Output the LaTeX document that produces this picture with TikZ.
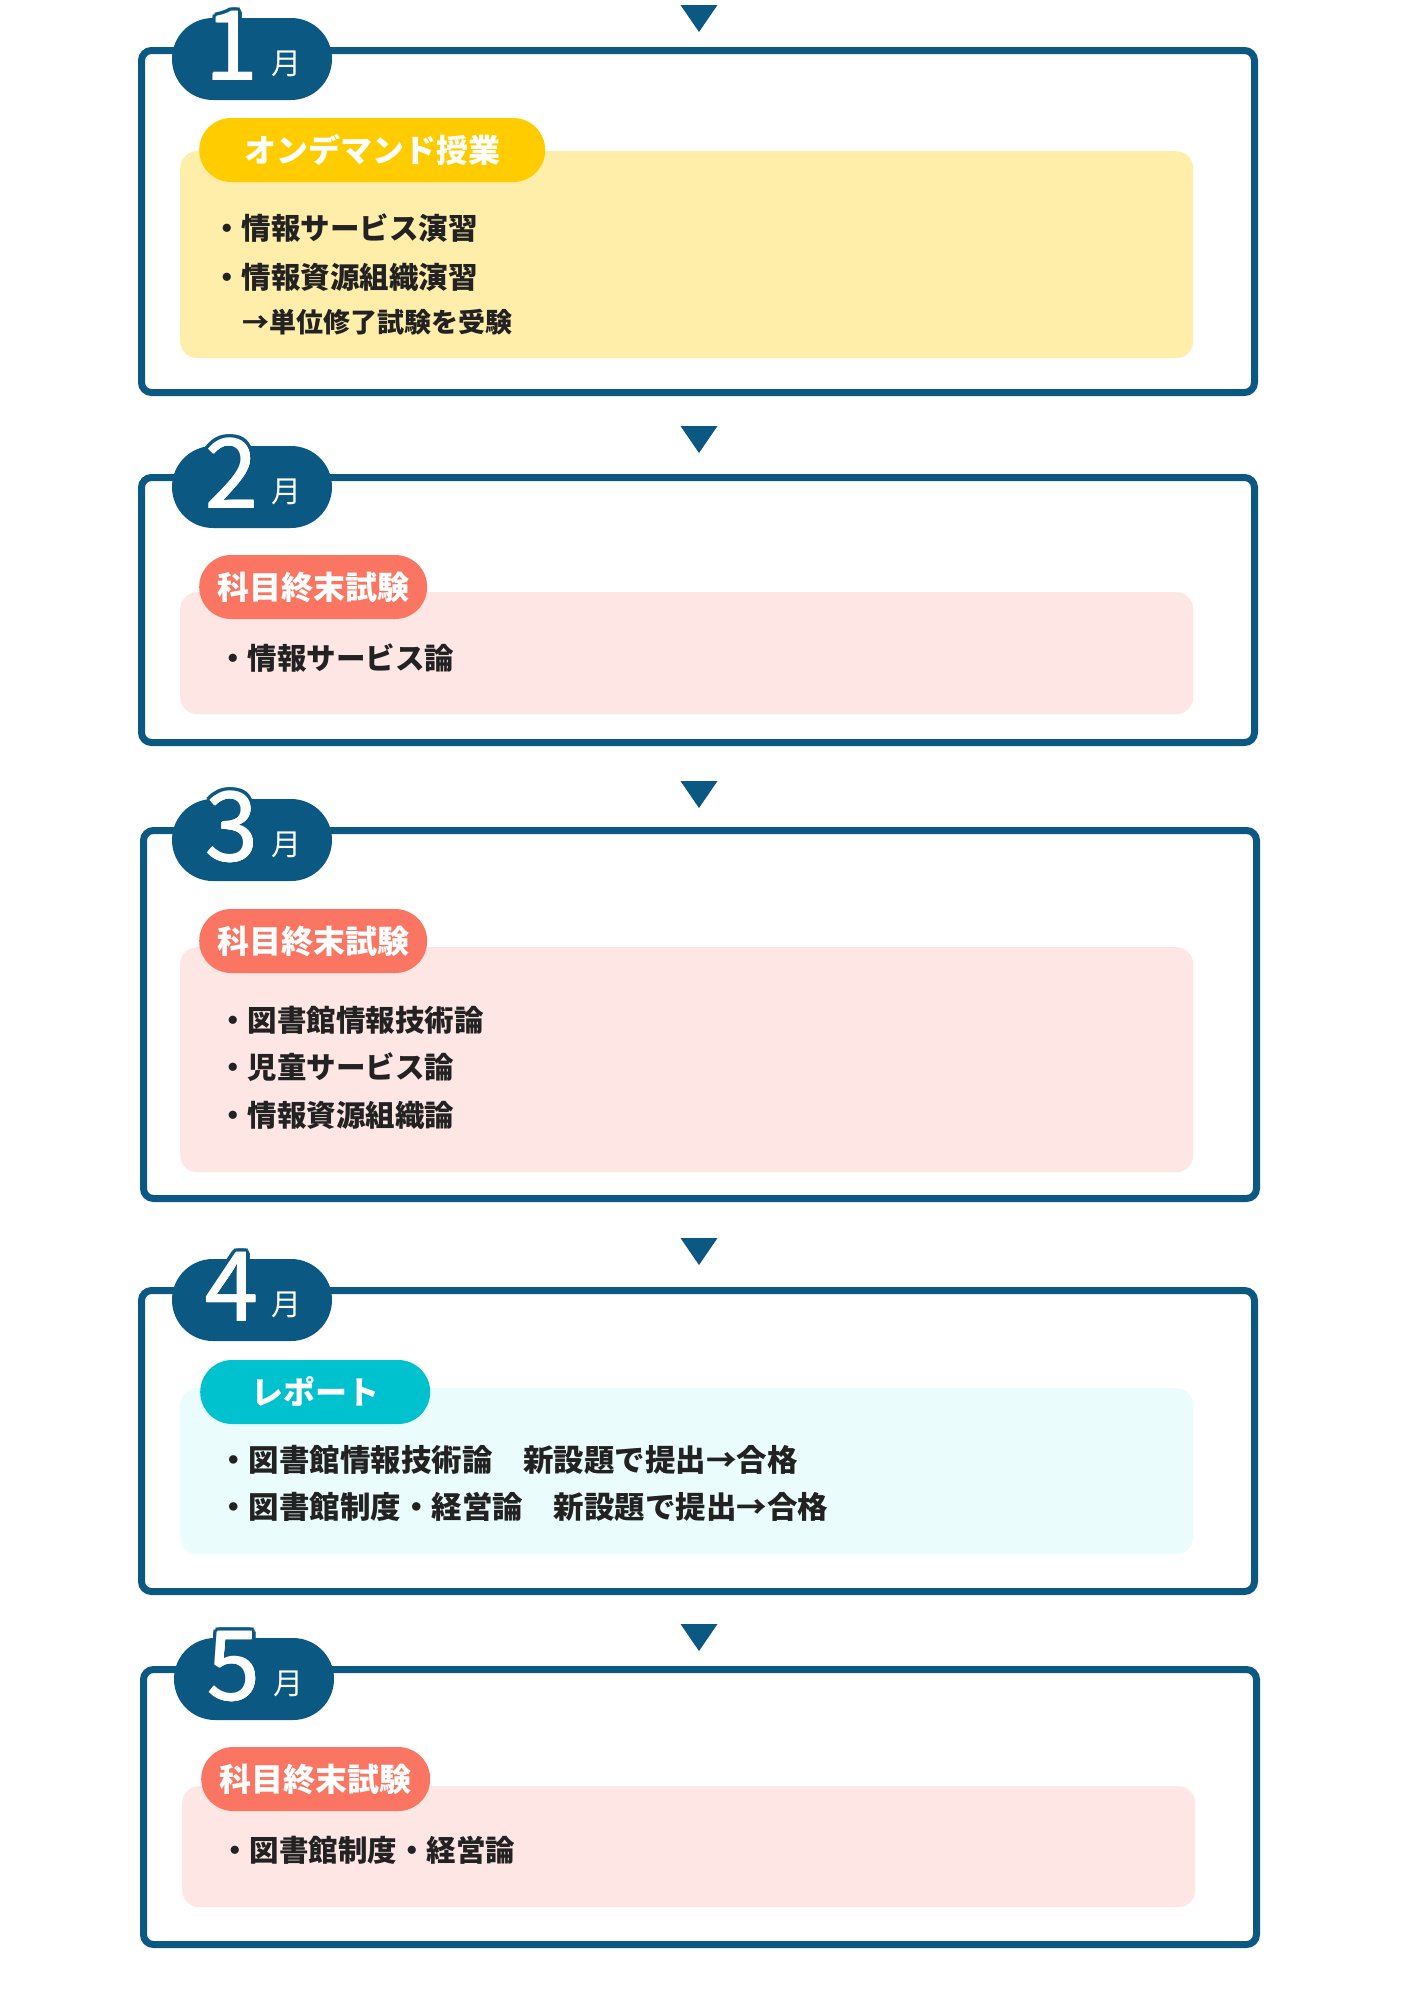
\documentclass[tikz,border=0pt]{standalone}
\usepackage{fontspec}
\setmainfont{Noto Sans CJK JP}
\usepackage{tikz}
\usetikzlibrary{%
    positioning,
    calc
}

\definecolor{navy}{RGB}{11,89,130}
\definecolor{gold}{RGB}{255,204,0}
\definecolor{cream}{RGB}{255,237,170}
\definecolor{salmon}{RGB}{250,118,98}
\definecolor{blush}{RGB}{253,230,227}
\definecolor{teal}{RGB}{0,194,206}
\definecolor{mint}{RGB}{234,253,252}
\definecolor{ink}{RGB}{34,34,34}

\begin{document}
\begin{tikzpicture}[
      x=1pt, y=-1pt,
      frame/.style={rectangle, draw=navy, line width=7pt,
                    rounded corners=10pt, anchor=north west,
                    minimum width=1113pt},
      badge/.style={rectangle, fill=navy, rounded corners=41pt,
                    minimum width=160pt, minimum height=82pt},
      num/.style={text=white, anchor=base, inner sep=0pt,
                  font=\fontsize{96}{96}\selectfont},
      month/.style={text=white, anchor=base, inner sep=0pt,
                    font=\fontsize{30}{30}\selectfont},
      tag/.style={rectangle, rounded corners=32pt, minimum height=64pt,
                  anchor=west, text=white,
                  font=\bfseries\fontsize{32}{32}\selectfont},
      panel/.style={rectangle, rounded corners=17pt, anchor=north west,
                    minimum width=1013pt},
      item/.style={text=ink, anchor=base west, inner sep=0pt,
                   font=\bfseries\fontsize{29.5}{29.5}\selectfont},
      tri/.style={fill=navy}
    ]
      \fill[white] (0,0) rectangle (1414,2000);
      \useasboundingbox (0,0) rectangle (1414,2000);

      % 1月
      \coordinate (tip1) at (699,32);
      \fill[tri] (tip1) -- ++(-18.5,-27) -- ++(37,0) -- cycle;

      \node[frame, minimum height=342pt] (box1) at (138,47) {};
      \node[badge] (badge1) at (252,59) {};
      \foreach \a in {0,30,...,330}
        \node[num, text=navy, shift={(\a:4pt)}] at (232,80) {1};
      \foreach \a in {0,90,180,270}
        \node[num, shift={(\a:0.6pt)}] at (232,80) {1};
      \node[num] (num1) at (232,80) {1};
      \node[month] (month1) at (286,74) {月};

      \node[panel, fill=cream, minimum height=207pt]
        (panel1) at (180,151) {};
      \node[tag, fill=gold, minimum width=346pt]
        (tag1) at (199,150) {オンデマンド授業};
      \node[item] (item1a) at (212,239) {・情報サービス演習};
      \node[item] (item1b) at (212,288) {・情報資源組織演習};
      \node[item, font=\bfseries\fontsize{27}{27}\selectfont]
        (item1c) at (242,332) {→単位修了試験を受験};

      % 2月
      \coordinate (tip2) at (699,453);
      \fill[tri] (tip2) -- ++(-18.5,-27) -- ++(37,0) -- cycle;

      \node[frame, minimum height=265pt] (box2) at (138,474) {};
      \node[badge] (badge2) at (252,487) {};
      \foreach \a in {0,30,...,330}
        \node[num, text=navy, shift={(\a:4pt)}] at (232,508) {2};
      \foreach \a in {0,90,180,270}
        \node[num, shift={(\a:0.6pt)}] at (232,508) {2};
      \node[num] (num2) at (232,508) {2};
      \node[month] (month2) at (286,502) {月};

      \node[panel, fill=blush, minimum height=122pt]
        (panel2) at (180,592) {};
      \node[tag, fill=salmon, minimum width=228pt]
        (tag2) at (199,587) {科目終末試験};
      \node[item] (item2a) at (218,669) {・情報サービス論};

      % 3月
      \coordinate (tip3) at (699,808);
      \fill[tri] (tip3) -- ++(-18.5,-27) -- ++(37,0) -- cycle;

      \node[frame, minimum height=368pt] (box3) at (140,827) {};
      \node[badge] (badge3) at (252,840) {};
      \foreach \a in {0,30,...,330}
        \node[num, text=navy, shift={(\a:4pt)}] at (232,861) {3};
      \foreach \a in {0,90,180,270}
        \node[num, shift={(\a:0.6pt)}] at (232,861) {3};
      \node[num] (num3) at (232,861) {3};
      \node[month] (month3) at (286,855) {月};

      \node[panel, fill=blush, minimum height=225pt]
        (panel3) at (180,947) {};
      \node[tag, fill=salmon, minimum width=228pt]
        (tag3) at (199,941) {科目終末試験};
      \node[item] (item3a) at (218,1031) {・図書館情報技術論};
      \node[item] (item3b) at (218,1078) {・児童サービス論};
      \node[item] (item3c) at (218,1126) {・情報資源組織論};

      % 4月
      \coordinate (tip4) at (699,1265);
      \fill[tri] (tip4) -- ++(-18.5,-27) -- ++(37,0) -- cycle;

      \node[frame, minimum height=301pt] (box4) at (138,1287) {};
      \node[badge] (badge4) at (252,1300) {};
      \foreach \a in {0,30,...,330}
        \node[num, text=navy, shift={(\a:4pt)}] at (232,1321) {4};
      \foreach \a in {0,90,180,270}
        \node[num, shift={(\a:0.6pt)}] at (232,1321) {4};
      \node[num] (num4) at (232,1321) {4};
      \node[month] (month4) at (286,1315) {月};

      \node[panel, fill=mint, minimum height=166pt]
        (panel4) at (180,1388) {};
      \node[tag, fill=teal, minimum width=230pt]
        (tag4) at (200,1392) {レポート};
      \node[item, font=\bfseries\fontsize{30.5}{30.5}\selectfont]
        (item4a) at (218,1471) {・図書館情報技術論　新設題で提出→合格};
      \node[item, font=\bfseries\fontsize{30.5}{30.5}\selectfont]
        (item4b) at (218,1518) {・図書館制度・経営論　新設題で提出→合格};

      % 5月
      \coordinate (tip5) at (699,1651);
      \fill[tri] (tip5) -- ++(-18.5,-27) -- ++(37,0) -- cycle;

      \node[frame, minimum height=275pt] (box5) at (140,1666) {};
      \node[badge] (badge5) at (254,1679) {};
      \foreach \a in {0,30,...,330}
        \node[num, text=navy, shift={(\a:4pt)}] at (234,1700) {5};
      \foreach \a in {0,90,180,270}
        \node[num, shift={(\a:0.6pt)}] at (234,1700) {5};
      \node[num] (num5) at (234,1700) {5};
      \node[month] (month5) at (288,1694) {月};

      \node[panel, fill=blush, minimum height=121pt]
        (panel5) at (182,1786) {};
      \node[tag, fill=salmon, minimum width=229pt]
        (tag5) at (201,1779) {科目終末試験};
      \node[item] (item5a) at (220,1861) {・図書館制度・経営論};
    \end{tikzpicture}
\end{document}
